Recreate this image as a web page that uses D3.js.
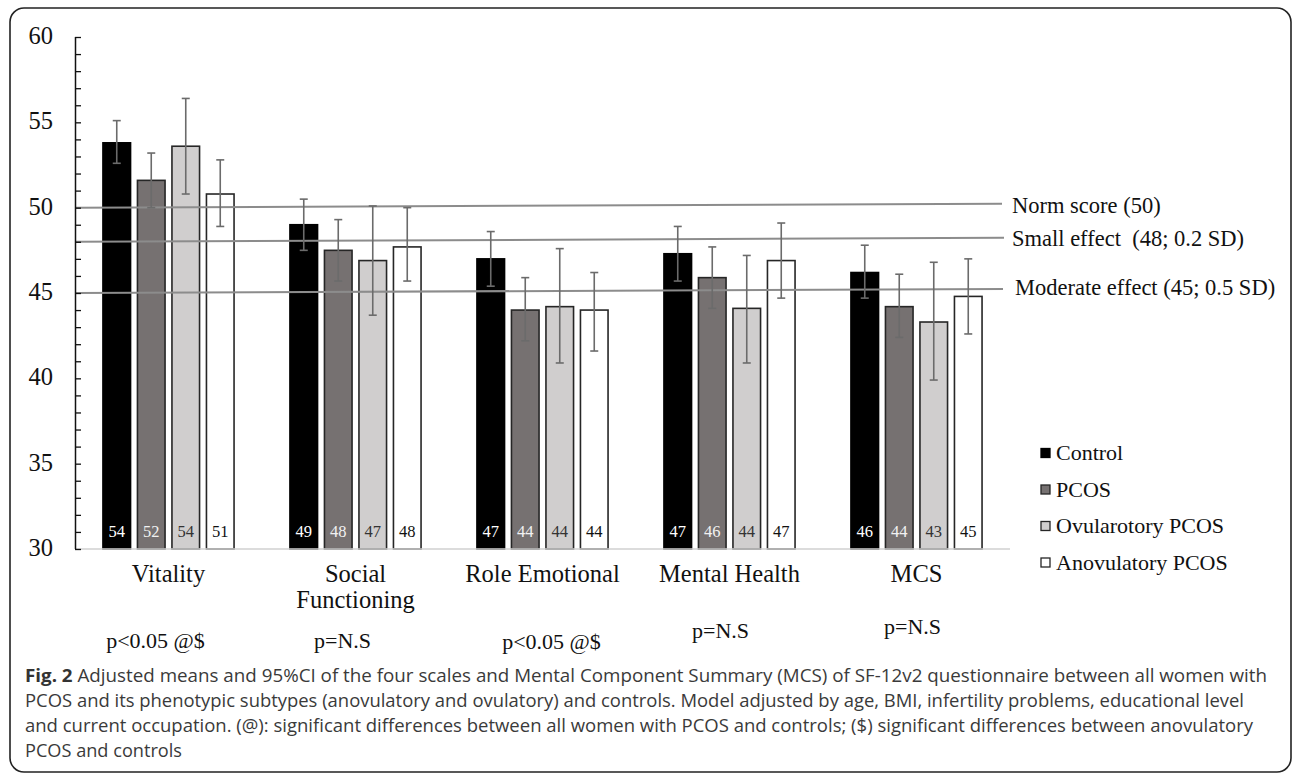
<!DOCTYPE html>
<html>
<head>
<meta charset="utf-8">
<script src="https://cdn.jsdelivr.net/npm/d3@7"></script>
<style>
  html, body { margin: 0; padding: 0; background: #fff; }
  svg { display: block; }
</style>
</head>
<body>
<svg id="chart" width="1292" height="774"></svg>
<script>
// SF-12v2 mental scales: adjusted means with 95% CI
const categories = ["Vitality", "Social Functioning", "Role Emotional", "Mental Health", "MCS"];
const categoryLines = [["Vitality"], ["Social", "Functioning"], ["Role Emotional"], ["Mental Health"], ["MCS"]];
const series = ["Control", "PCOS", "Ovularotory PCOS", "Anovulatory PCOS"];

const meanControl = [53.8, 49.0, 47.0, 47.3, 46.2];
const meanPCOS    = [51.6, 47.5, 44.0, 45.9, 44.2];
const meanOvul    = [53.6, 46.9, 44.2, 44.1, 43.3];
const meanAnov    = [50.8, 47.7, 44.0, 46.9, 44.8];

const ciLowControl  = [52.6, 47.5, 45.4, 45.7, 44.7];
const ciHighControl = [55.1, 50.5, 48.6, 48.9, 47.8];
const ciLowPCOS     = [50.0, 45.7, 42.2, 44.1, 42.4];
const ciHighPCOS    = [53.2, 49.3, 45.9, 47.7, 46.1];
const ciLowOvul     = [50.8, 43.7, 40.9, 40.9, 39.9];
const ciHighOvul    = [56.4, 50.1, 47.6, 47.2, 46.8];
const ciLowAnov     = [48.9, 45.7, 41.6, 44.7, 42.6];
const ciHighAnov    = [52.8, 50.0, 46.2, 49.1, 47.0];

const valueLabels = [[54, 52, 54, 51], [49, 48, 47, 48], [47, 44, 44, 44], [47, 46, 44, 47], [46, 44, 43, 45]];
const pValues = ["p<0.05 @$", "p=N.S", "p<0.05 @$", "p=N.S", "p=N.S"];

const refValues = [50, 48, 45];
const refLabels = ["Norm score (50)", "Small effect  (48; 0.2 SD)", "Moderate effect (45; 0.5 SD)"];

const yTicks = [30, 35, 40, 45, 50, 55, 60];

const captionLines = [
  "Adjusted means and 95%CI of the four scales and Mental Component Summary (MCS) of SF-12v2 questionnaire between all women with",
  "PCOS and its phenotypic subtypes (anovulatory and ovulatory) and controls. Model adjusted by age, BMI, infertility problems, educational level",
  "and current occupation. (@): significant differences between all women with PCOS and controls; ($) significant differences between anovulatory",
  "PCOS and controls"
];

const means = [meanControl, meanPCOS, meanOvul, meanAnov];
const lows = [ciLowControl, ciLowPCOS, ciLowOvul, ciLowAnov];
const highs = [ciHighControl, ciHighPCOS, ciHighOvul, ciHighAnov];

const fills = ["#000000", "#767171", "#d0cece", "#ffffff"];
const strokes = ["#000000", "#262626", "#262626", "#262626"];
const labelColors = ["#ffffff", "#f2f2f2", "#333333", "#111111"];

const serif = "'Liberation Serif', 'Times New Roman', serif";
const svg = d3.select("#chart");

// frame around the figure
svg.append("rect")
  .attr("x", 10).attr("y", 8).attr("width", 1281).attr("height", 764)
  .attr("rx", 14).attr("ry", 14)
  .attr("fill", "#fff").attr("stroke", "#222").attr("stroke-width", 1.6);

const plotLeft = 75, plotRight = 1010, plotTop = 37, plotBottom = 549;

const y = d3.scaleLinear().domain([30, 60]).range([plotBottom, plotTop]);
const x0 = d3.scaleBand().domain(categories).range([plotLeft, plotRight]).padding(0);
const bw = x0.bandwidth();
const x1 = d3.scaleBand().domain(series)
  .range([bw / 2 - 69, bw / 2 + 69]).paddingInner(0.2).paddingOuter(0.1);

// bars
const rows = [];
categories.forEach((c, ci) => {
  series.forEach((s, si) => {
    rows.push({ c, ci, s, si, v: means[si][ci], lo: lows[si][ci], hi: highs[si][ci], lab: valueLabels[ci][si] });
  });
});

const gBars = svg.append("g");
gBars.selectAll("rect").data(rows).join("rect")
  .attr("x", d => x0(d.c) + x1(d.s))
  .attr("y", d => y(d.v))
  .attr("width", x1.bandwidth())
  .attr("height", d => y(30) - y(d.v))
  .attr("fill", d => fills[d.si])
  .attr("stroke", d => strokes[d.si])
  .attr("stroke-width", 1.6);

// value labels inside bars
gBars.selectAll("text").data(rows).join("text")
  .attr("x", d => x0(d.c) + x1(d.s) + x1.bandwidth() / 2)
  .attr("y", 537)
  .attr("text-anchor", "middle")
  .attr("font-family", serif).attr("font-size", 16.5)
  .attr("fill", d => labelColors[d.si])
  .text(d => d.lab);

// reference lines
const gRef = svg.append("g");
refValues.forEach((v, i) => {
  const xEnd = [1002, 1004, 1003][i];
  gRef.append("line")
    .attr("x1", plotLeft).attr("x2", xEnd)
    .attr("y1", y(v)).attr("y2", y(v) - 4)
    .attr("stroke", "#8c8c8c").attr("stroke-width", 2);
  gRef.append("text")
    .attr("x", [1012, 1012, 1015][i])
    .attr("y", y(v) + [5, 4, 2][i])
    .attr("font-family", serif).attr("font-size", 22.5)
    .attr("fill", "#111")
    .attr("xml:space", "preserve")
    .style("white-space", "pre")
    .text(refLabels[i]);
});

// error bars
const gErr = svg.append("g").attr("stroke", "#6b6b6b").attr("stroke-width", 1.6);
rows.forEach(d => {
  const cx = x0(d.c) + x1(d.s) + x1.bandwidth() / 2;
  gErr.append("line").attr("x1", cx).attr("x2", cx).attr("y1", y(d.hi)).attr("y2", y(d.lo));
  gErr.append("line").attr("x1", cx - 4).attr("x2", cx + 4).attr("y1", y(d.hi)).attr("y2", y(d.hi));
  gErr.append("line").attr("x1", cx - 4).attr("x2", cx + 4).attr("y1", y(d.lo)).attr("y2", y(d.lo));
});

// baseline
svg.append("line")
  .attr("x1", plotLeft).attr("x2", plotRight)
  .attr("y1", y(30)).attr("y2", y(30))
  .attr("stroke", "#d0d0d0").attr("stroke-width", 1.5);

// y axis with inward minor ticks
const yAxis = d3.axisRight(y).tickValues(d3.range(30, 61, 1)).tickSize(6).tickFormat("");
const gy = svg.append("g").attr("transform", `translate(${plotLeft},0)`).call(yAxis);
gy.select(".domain").attr("stroke", "#111").attr("stroke-width", 1.5).attr("d", `M0.5,${plotTop}V${plotBottom}`);
gy.selectAll(".tick line").attr("stroke", "#111").attr("stroke-width", 1.3);

svg.append("g").selectAll("text").data(yTicks).join("text")
  .attr("x", 53).attr("y", d => y(d) + 7)
  .attr("text-anchor", "end")
  .attr("font-family", serif).attr("font-size", 24.5).attr("fill", "#111")
  .text(d => d);

// category labels
const gCat = svg.append("g");
categories.forEach((c, i) => {
  const t = gCat.append("text")
    .attr("x", x0(c) + bw / 2).attr("y", 582)
    .attr("text-anchor", "middle")
    .attr("font-family", serif).attr("font-size", 24.5).attr("fill", "#111");
  categoryLines[i].forEach((ln, k) => {
    t.append("tspan").attr("x", x0(c) + bw / 2).attr("dy", k === 0 ? 0 : 26).text(ln);
  });
});

// significance notes
const pOffsetX = [-13, -13, 9, -9, -4];
const pBaseY = [648, 648, 649, 638, 634];
svg.append("g").selectAll("text").data(pValues).join("text")
  .attr("x", (d, i) => x0(categories[i]) + bw / 2 + pOffsetX[i])
  .attr("y", (d, i) => pBaseY[i])
  .attr("text-anchor", "middle")
  .attr("font-family", serif).attr("font-size", 22).attr("fill", "#111")
  .text(d => d);

// legend
const gLeg = svg.append("g");
series.forEach((s, i) => {
  const cy = 453 + i * 36.5;
  gLeg.append("rect")
    .attr("x", 1041).attr("y", cy - 4.5).attr("width", 9).attr("height", 9)
    .attr("fill", fills[i]).attr("stroke", strokes[i]).attr("stroke-width", 1.3);
  gLeg.append("text")
    .attr("x", 1056).attr("y", cy + 7)
    .attr("font-family", serif).attr("font-size", 22).attr("fill", "#111")
    .text(s);
});

// caption
const capWidths = [1242, 1219, 1228, 157];
const capBase = [682, 707, 732, 757];
const gCap = svg.append("g")
  .attr("font-family", "'Open Sans', 'Noto Sans', sans-serif")
  .attr("font-size", 18.5).attr("fill", "#3a3a3a");
captionLines.forEach((ln, i) => {
  const t = gCap.append("text")
    .attr("x", 25).attr("y", capBase[i])
    .attr("textLength", capWidths[i]).attr("lengthAdjust", "spacingAndGlyphs");
  if (i === 0) {
    t.append("tspan").attr("font-weight", "bold").attr("fill", "#333").text("Fig. 2");
    t.append("tspan").text(" " + ln);
  } else {
    t.text(ln);
  }
});
</script>
</body>
</html>
